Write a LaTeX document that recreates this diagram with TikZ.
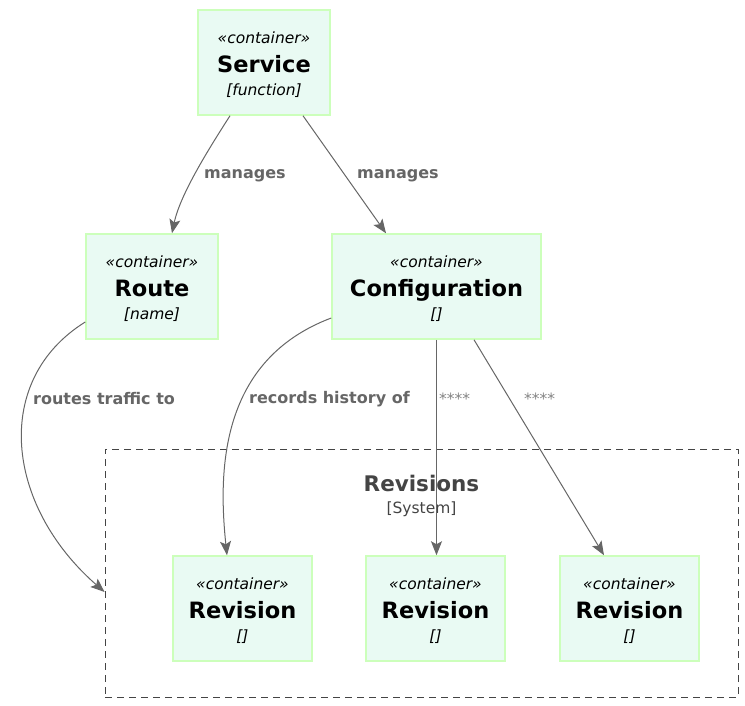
\documentclass[tikz,border=0pt]{standalone}
\usepackage{fontspec}
\setmainfont{DejaVu Sans}
\usetikzlibrary{arrows.meta}
\definecolor{boxfill}{HTML}{E9FAF3}
\definecolor{boxline}{HTML}{CCFFBB}
\definecolor{edgegray}{HTML}{666666}
\definecolor{bndgray}{HTML}{444444}
\begin{document}
\begin{tikzpicture}[x=1pt,y=-1pt,
  container/.style={draw=boxline,fill=boxfill,line width=1.5pt,minimum height=105pt,align=center,inner sep=0pt,
    font=\fontsize{15.5}{25.5}\selectfont},
  rel/.style={draw=edgegray,line width=1pt,-{Stealth[length=14pt,width=11pt,inset=3pt]}},
  rellabel/.style={text=edgegray,font=\fontsize{16}{18}\selectfont\bfseries,anchor=west,inner sep=0pt},
  starlabel/.style={text=edgegray!80,font=\fontsize{15.5}{17}\selectfont,anchor=west,inner sep=0pt}]
\useasboundingbox (0,0) rectangle (745,706);
\newcommand\cbox[2]{\rule{0pt}{17pt}{\itshape «container»}\\[3pt]{\fontsize{22.5}{25.5}\selectfont\bfseries #1}\\[-2pt]{\itshape [#2]}}

% boundary
\node[draw=bndgray,dash pattern=on 7pt off 5pt,line width=0.9pt,minimum width=633pt,minimum height=248pt,inner sep=0pt] (revs) at (421.5,573) {};
\node[text=bndgray,font=\fontsize{21.5}{24}\selectfont\bfseries] (revsname) at (421.5,483) {Revisions};
\node[text=bndgray,font=\fontsize{15.5}{18}\selectfont] (revstype) at (421.5,509) {[System]};

% containers
\node[container,minimum width=132pt] (svc) at (264,62.5) {\cbox{Service}{function}};
\node[container,minimum width=132pt] (route) at (152,286.5) {\cbox{Route}{name}};
\node[container,minimum width=209pt] (config) at (436.5,286.5) {\cbox{Configuration}{}};
\node[container,minimum width=139pt] (rev1) at (242.5,608.5) {\cbox{Revision}{}};
\node[container,minimum width=139pt] (rev2) at (435.5,608.5) {\cbox{Revision}{}};
\node[container,minimum width=139pt] (rev3) at (629.5,608.5) {\cbox{Revision}{}};

% relations
\draw[rel] ([xshift=-34pt]svc.south) .. controls (208,150) and (180,195) .. ([xshift=20pt]route.north);
\node[rellabel] (l1) at (204,176) {manages};
\draw[rel] ([xshift=39pt]svc.south) -- ([xshift=-50.5pt]config.north);
\node[rellabel] (l2) at (357,176) {manages};
\draw[rel] ([yshift=-35.5pt]route.west) .. controls (-8,380) and (5,505) .. ([yshift=-19pt]revs.west);
\node[rellabel] (l3) at (33,399) {routes traffic to};
\draw[rel] ([yshift=-31.5pt]config.west) .. controls (220,360) and (218,470) .. ([xshift=-15.5pt]rev1.north);
\node[rellabel] (l4) at (249,399) {records history of};
\draw[rel] (config.south) -- (config.south |- rev2.north);
\node[starlabel] (l5) at (439,399) {****};
\draw[rel] ([xshift=37.5pt]config.south) -- ([xshift=-25.5pt]rev3.north);
\node[starlabel] (l6) at (524,399) {****};
\end{tikzpicture}
\end{document}
